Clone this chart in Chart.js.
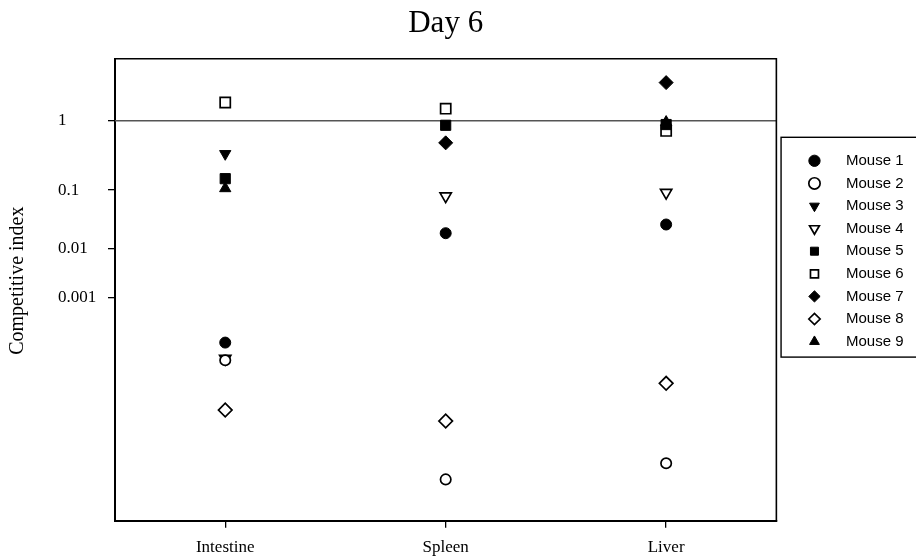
<!DOCTYPE html>
<html><head><meta charset="utf-8">
<script src="https://cdn.jsdelivr.net/npm/chart.js@4/dist/chart.umd.min.js"></script>
<style>html,body{margin:0;padding:0;background:#fff;} #wrap{width:916px;height:558px;position:relative;}</style>
</head><body><div id="wrap"><canvas id="c"></canvas></div>
<script>
// ---- data ----
const TITLE = 'Day 6';
const Y_TITLE = 'Competitive index';
const CATEGORIES = ['Intestine', 'Spleen', 'Liver'];
const Y_TICKS = [0.001, 0.01, 0.1, 1];
const Y_TICK_LABELS = ['0.001', '0.01', '0.1', '1'];
const REFERENCE_VALUE = 1;
const SERIES_NAMES = ['Mouse 1','Mouse 2','Mouse 3','Mouse 4','Mouse 5','Mouse 6','Mouse 7','Mouse 8','Mouse 9'];
const MOUSE_1 = [8.3e-5, 0.019, 0.027];
const MOUSE_2 = [2.7e-5, 1.9e-10, 2.0e-9];
const MOUSE_3 = [0.35, null, null];
const MOUSE_4 = [3.0e-5, 0.080, 0.091];
const MOUSE_5 = [0.15, 0.87, 0.89];
const MOUSE_6 = [1.73, 1.44, 0.73];
const MOUSE_7 = [null, 0.50, 3.06];
const MOUSE_8 = [6.1e-7, 2.25e-7, 5.3e-6];
const MOUSE_9 = [0.106, null, 0.96];
const SERIES_VALUES = [MOUSE_1, MOUSE_2, MOUSE_3, MOUSE_4, MOUSE_5, MOUSE_6, MOUSE_7, MOUSE_8, MOUSE_9];

// ---- marker styles ----
const STYLES = [
  {shape:'circle',   filled:true,  r:5.5, rot:0},
  {shape:'circle',   filled:false, r:5.2, rot:0},
  {shape:'triangle', filled:true,  r:6.5, rot:180},
  {shape:'triangle', filled:false, r:6.5, rot:180},
  {shape:'rect',     filled:true,  r:7.2, rot:0},
  {shape:'rect',     filled:false, r:7.2, rot:0},
  {shape:'rectRot',  filled:true,  r:7.0, rot:0},
  {shape:'rectRot',  filled:false, r:6.8, rot:0},
  {shape:'triangle', filled:true,  r:6.5, rot:0}
];

// Axis with the non-logarithmic compression used by the original plot
class PowerScale extends Chart.LinearScale {
  static id = 'power';
  determineDataLimits() {
    this.min = this.options.min;
    this.max = this.options.max;
  }
  buildTicks() {
    return Y_TICKS.map(v => ({ value: v }));
  }
  _k() { return this.options.exponent || 0.0737; }
  _t(v) { return Math.pow(v, this._k()); }
  getPixelForValue(value) {
    const t0 = this._t(this.min), t1 = this._t(this.max);
    return this.getPixelForDecimal((this._t(value) - t0) / (t1 - t0));
  }
  getValueForPixel(pixel) {
    const t0 = this._t(this.min), t1 = this._t(this.max);
    const d = this.getDecimalForPixel(pixel);
    return Math.pow(t0 + d * (t1 - t0), 1 / this._k());
  }
  drawTitle() {
    const ctx = this.ctx;
    ctx.save();
    ctx.translate(this.options.titleShiftX || 0, this.options.titleShiftY || 0);
    super.drawTitle();
    ctx.restore();
  }
}
Chart.register(PowerScale);

Chart.defaults.font.family = "'Liberation Serif', 'Times New Roman', serif";
Chart.defaults.color = '#000';

const datasets = SERIES_NAMES.map((name, i) => {
  const s = STYLES[i];
  return {
    label: name,
    data: SERIES_VALUES[i],
    showLine: false,
    pointStyle: s.shape,
    pointRotation: s.rot,
    pointRadius: s.r,
    pointHoverRadius: s.r,
    pointBackgroundColor: s.filled ? '#000' : '#fff',
    pointBorderColor: '#000',
    pointBorderWidth: s.filled ? 1 : 1.7,
    backgroundColor: s.filled ? '#000' : '#fff',
    borderColor: '#000'
  };
});

const LEGEND_TITLE_PAD = 75;
const LEGEND_ROW_PAD = 7.6;

const framePlugin = {
  id: 'frame',
  afterLayout(chart) {
    const lg = chart.legend;
    if (lg) {
      lg.left = chart.chartArea.right + 23;
      lg.right = chart.width - 12.5;
    }
  },
  beforeDatasetsDraw(chart) {
    const {ctx, chartArea} = chart;
    const y = chart.scales.y.getPixelForValue(REFERENCE_VALUE);
    ctx.save();
    ctx.strokeStyle = '#555';
    ctx.lineWidth = 1.5;
    ctx.beginPath();
    ctx.moveTo(chartArea.left, y);
    ctx.lineTo(chartArea.right, y);
    ctx.stroke();
    ctx.restore();
  },
  afterDraw(chart) {
    const {ctx, chartArea} = chart;
    ctx.save();
    ctx.strokeStyle = '#000';
    ctx.lineWidth = 1.6;
    ctx.beginPath();
    ctx.moveTo(chartArea.left, chartArea.top);
    ctx.lineTo(chartArea.right, chartArea.top);
    ctx.lineTo(chartArea.right, chartArea.bottom);
    ctx.stroke();
    // legend frame
    const lg = chart.legend;
    const rowTop = lg.top + 12 + LEGEND_TITLE_PAD + LEGEND_ROW_PAD;
    const n = SERIES_NAMES.length;
    const top = rowTop - 16;
    const bottom = rowTop + (n - 1) * (15 + LEGEND_ROW_PAD) + 15 + 8;
    ctx.lineWidth = 1.4;
    ctx.strokeRect(chartArea.right + 4.7, top, chart.width, bottom - top);
    ctx.restore();
  }
};

new Chart(document.getElementById('c'), {
  type: 'line',
  data: { labels: CATEGORIES, datasets },
  options: {
    responsive: true,
    maintainAspectRatio: false,
    animation: false,
    devicePixelRatio: 1,
    layout: { padding: { left: 58, right: 42, top: 0, bottom: 2 } },
    plugins: {
      title: {
        display: true, text: TITLE, fullSize: false, color: '#000',
        font: { size: 31, weight: 'normal' },
        padding: { top: 5, bottom: 16.5 }
      },
      legend: {
        position: 'right', align: 'start', fullSize: false,
        title: { display: true, text: '', font: { size: 10 }, padding: { top: LEGEND_TITLE_PAD, bottom: 0 } },
        labels: {
          usePointStyle: true, boxHeight: 8, boxWidth: 15, padding: LEGEND_ROW_PAD,
          textAlign: 'right', color: '#000',
          font: { family: "'Liberation Sans', Arial, sans-serif", size: 15 }
        }
      },
      tooltip: { enabled: false }
    },
    scales: {
      x: {
        type: 'category', offset: true,
        afterFit: (s) => { s.height = 35.3; },
        grid: { display: true, drawOnChartArea: false, drawTicks: true, tickLength: 7, offset: false, color: '#000', lineWidth: 1.3 },
        border: { display: true, color: '#000', width: 2 },
        ticks: { color: '#000', font: { size: 17 }, padding: 10 }
      },
      y: {
        type: 'power', exponent: 0.0737, min: 2.4e-14, max: 5.9,
        titleShiftX: -52, titleShiftY: -9,
        afterFit: (s) => { s.width = 57; },
        grid: { display: true, drawOnChartArea: false, drawTicks: true, tickLength: 7, color: '#000', lineWidth: 1.3 },
        border: { display: true, color: '#000', width: 2 },
        ticks: { autoSkip: false, crossAlign: 'far', padding: 9, color: '#000', font: { size: 17 },
                 callback: (v, i) => Y_TICK_LABELS[i] },
        title: { display: true, text: Y_TITLE, color: '#000', font: { size: 20 }, padding: { top: 0, bottom: 0 } }
      }
    }
  },
  plugins: [framePlugin]
});
</script>
</body></html>
